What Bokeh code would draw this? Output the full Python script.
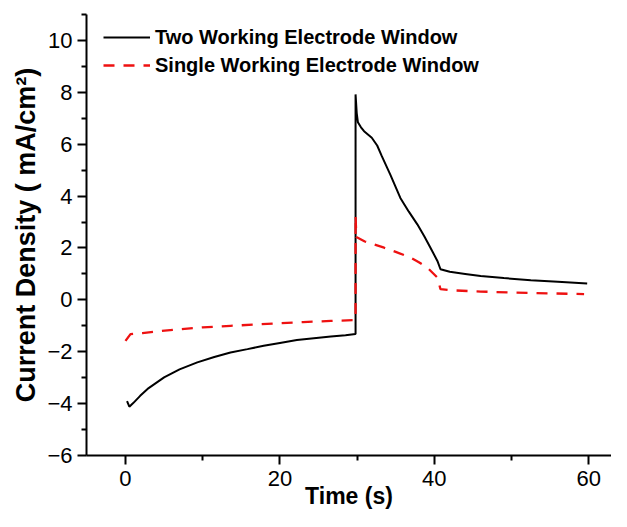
from bokeh.plotting import figure
from bokeh.models import FixedTicker, Legend, LegendItem
from bokeh.embed import file_html
from bokeh.resources import INLINE

# Two Working Electrode Window (black, solid)
t_two = [0.2, 0.5, 1.0, 1.9, 3.0, 5.0, 7.0, 9.3, 11.5, 13.6, 15.8, 17.9, 20.0,
         22.2, 24.4, 26.6, 28.5, 29.8, 29.8, 29.95, 30.1, 30.5, 30.9, 31.9,
         32.6, 33.2, 34.3, 35.6, 36.7, 37.8, 38.7, 39.5, 40.4, 40.8, 42.0,
         44.0, 46.0, 49.0, 52.5, 56.0, 59.8]
j_two = [-3.9, -4.12, -3.98, -3.7, -3.4, -2.99, -2.68, -2.41, -2.2, -2.03,
         -1.9, -1.77, -1.66, -1.55, -1.48, -1.41, -1.36, -1.32, 7.92, 7.2,
         6.85, 6.65, 6.5, 6.25, 5.95, 5.54, 4.83, 3.93, 3.4, 2.91, 2.45, 2.01,
         1.5, 1.18, 1.08, 1.0, 0.92, 0.84, 0.76, 0.7, 0.63]

# Single Working Electrode Window (red, dashed)
t_one = [0.0, 0.65, 2.2, 4.5, 7.1, 10.0, 13.6, 17.0, 20.0, 23.0, 26.6, 29.8,
         29.8, 29.9, 31.0, 33.5, 35.0, 36.9, 38.0, 39.1, 40.4, 40.8, 42.1,
         46.0, 50.3, 55.0, 59.4]
j_one = [-1.58, -1.32, -1.28, -1.2, -1.13, -1.06, -1.0, -0.95, -0.9, -0.86,
         -0.81, -0.78, 3.25, 2.42, 2.25, 2.01, 1.85, 1.63, 1.45, 1.24, 0.86,
         0.41, 0.37, 0.32, 0.28, 0.25, 0.22]

x_major = [0, 20, 40, 60]
x_minor = [10, 30, 50]
y_major = [-6, -4, -2, 0, 2, 4, 6, 8, 10]
y_minor = [-5, -3, -1, 1, 3, 5, 7, 9, 11]

FONT = "Liberation Sans"

p = figure(width=611, height=511, x_range=(-5.05, 62.95), y_range=(-6, 11),
           output_backend="svg", toolbar_location=None,
           min_border_left=86, min_border_right=0, min_border_top=14,
           min_border_bottom=56)
p.outline_line_color = None
p.xgrid.visible = False
p.ygrid.visible = False
p.background_fill_color = "white"

r_two = p.line(t_two, j_two, line_color="black", line_width=2)
r_one = p.line(t_one, j_one, line_color="#ee1111", line_width=2.3,
               line_dash="11 9")

for ax, maj, mnr in ((p.xaxis[0], x_major, x_minor), (p.yaxis[0], y_major, y_minor)):
    ax.ticker = FixedTicker(ticks=maj, minor_ticks=mnr)
    ax.axis_line_width = 2
    ax.axis_line_color = "black"
    ax.major_tick_line_width = 2
    ax.minor_tick_line_width = 2
    ax.major_tick_in = 0
    ax.major_tick_out = 9
    ax.minor_tick_in = 0
    ax.minor_tick_out = 5
    ax.major_label_text_font = FONT
    ax.major_label_text_font_size = "22px"
    ax.major_label_text_color = "black"
    ax.axis_label_text_font = FONT
    ax.axis_label_text_font_style = "bold"
    ax.axis_label_text_color = "black"

p.xaxis.axis_label = "Time (s)"
p.xaxis.axis_label_text_font_size = "23px"
p.xaxis.major_label_standoff = 6
p.xaxis.axis_label_standoff = -6
p.yaxis.axis_label = "Current Density ( mA/cm\u00b2)"
p.yaxis.axis_label_text_font_size = "27px"
p.yaxis.major_label_standoff = 5
p.yaxis.axis_label_standoff = 3

legend = Legend(items=[
    LegendItem(label="Two Working Electrode Window", renderers=[r_two]),
    LegendItem(label="Single Working Electrode Window", renderers=[r_one]),
], location=(17, 376))
legend.padding = 0
legend.spacing = 0
legend.margin = 0
legend.glyph_width = 47
legend.glyph_height = 28
legend.label_height = 28
legend.label_standoff = 5
legend.label_text_font = FONT
legend.label_text_font_style = "bold"
legend.label_text_font_size = "20px"
legend.label_text_color = "black"
legend.border_line_color = None
legend.background_fill_alpha = 0
p.add_layout(legend)

open("out.html", "w").write(file_html(p, INLINE))
